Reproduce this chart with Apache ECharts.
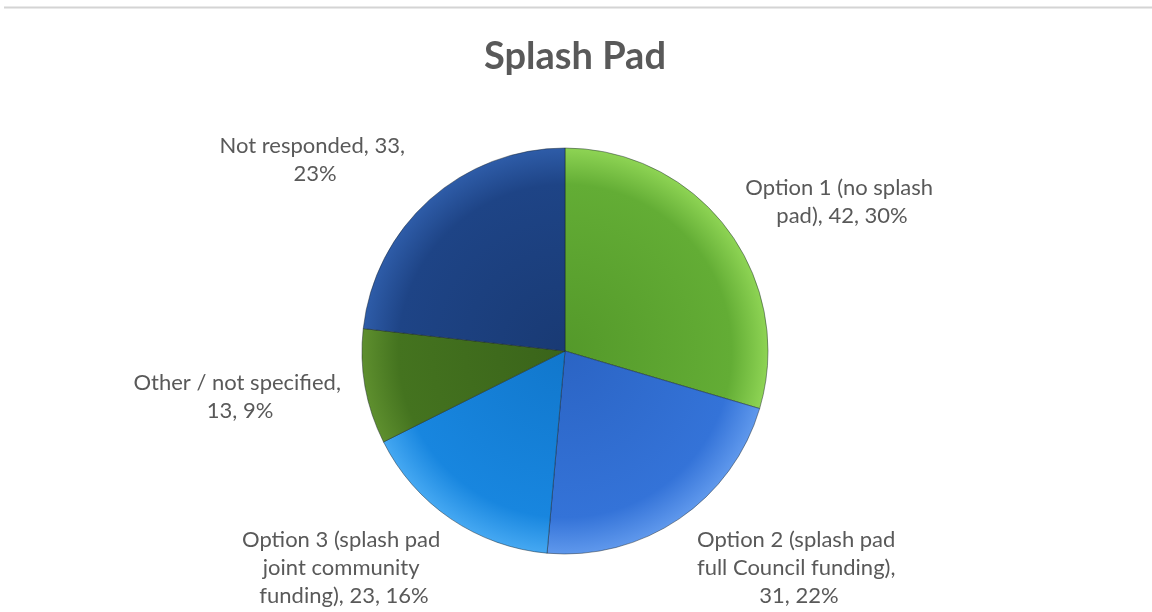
<!DOCTYPE html>
<html>
<head>
<meta charset="utf-8">
<script src="https://cdn.jsdelivr.net/npm/echarts@6/dist/echarts.min.js"></script>
<style>
  html, body { margin: 0; padding: 0; background: #ffffff; }
  #chart { width: 1152px; height: 612px; }
</style>
</head>
<body>
<div id="chart"></div>
<script>
// Survey responses for the splash pad question
const categories = [
  'Option 1 (no splash pad)',
  'Option 2 (splash pad full Council funding)',
  'Option 3 (splash pad joint community funding)',
  'Other / not specified',
  'Not responded'
];
const responses = [42, 31, 23, 13, 33];

// Slice colours: centre tone, body tone and rim highlight
const coreColors = ['#54992a', '#2b64c4', '#1177cc', '#3a641a', '#193a74'];
const baseColors = ['#63ad35', '#3473d8', '#1886df', '#44731f', '#1e4486'];
const rimColors  = ['#8ed454', '#5f98ec', '#45a8f2', '#5e8f2e', '#2e5ca8'];

// Label anchor points (centre of each text block) and wrap widths
const labelAnchors = [
  [842, 202], [799, 568], [344, 568], [240, 397], [315, 160]
];
const labelWidths = [200, 222, 225, 215, 195];

const CX = 565, CY = 351, R = 203;

const chart = echarts.init(document.getElementById('chart'));

const seriesData = categories.map((name, i) => ({
  name,
  value: responses[i],
  itemStyle: {
    color: {
      type: 'radial', x: CX, y: CY, r: R, global: true,
      colorStops: [
        { offset: 0, color: coreColors[i] },
        { offset: 0.82, color: baseColors[i] },
        { offset: 1, color: rimColors[i] }
      ]
    }
  },
  label: { width: labelWidths[i] }
}));

chart.setOption({
  animation: false,
  backgroundColor: '#ffffff',
  title: {
    text: 'Splash Pad',
    left: 570,
    textAlign: 'center',
    top: 33,
    textStyle: {
      fontFamily: 'Lato',
      fontWeight: 'bold',
      fontSize: 38,
      color: '#595959'
    }
  },
  graphic: [{
    type: 'line',
    shape: { x1: 4, y1: 7.5, x2: 1152, y2: 7.5 },
    style: { stroke: '#d4d4d4', lineWidth: 2 }
  }],
  series: [{
    type: 'pie',
    center: [CX, CY],
    radius: R,
    startAngle: 90,
    clockwise: true,
    percentPrecision: 0,
    itemStyle: {
      borderColor: 'rgba(20,30,40,0.45)',
      borderWidth: 1
    },
    label: {
      show: true,
      position: 'outside',
      formatter: p => `${p.name}, ${p.value}, ${p.percent}%`,
      overflow: 'break',
      align: 'center',
      fontFamily: 'Lato',
      fontSize: 22,
      lineHeight: 28,
      color: '#595959'
    },
    labelLine: { show: false },
    labelLayout: params => {
      const a = labelAnchors[params.dataIndex];
      return { x: a[0], y: a[1], align: 'center', verticalAlign: 'middle', hideOverlap: false, moveOverlap: false };
    },
    data: seriesData
  }]
});
</script>
</body>
</html>
